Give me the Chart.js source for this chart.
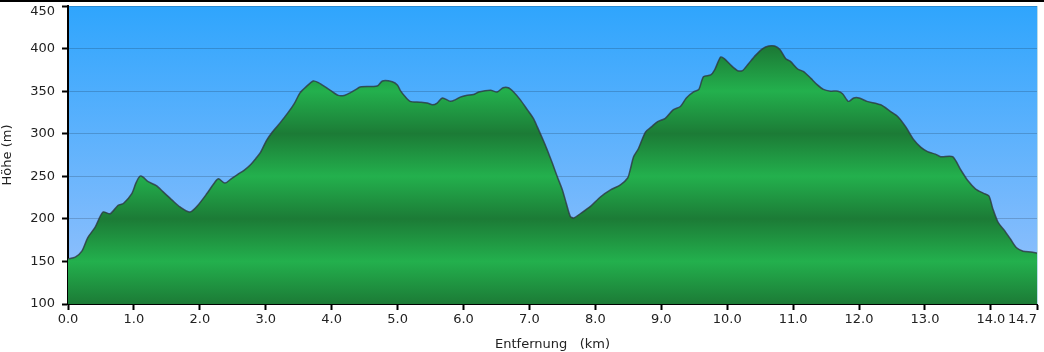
<!DOCTYPE html>
<html><head><meta charset="utf-8">
<script src="https://cdn.jsdelivr.net/npm/chart.js@4"></script>
<style>html,body{margin:0;padding:0;background:#fff}#wrap{width:1044px;height:352px}</style>
</head><body><div id="wrap"><canvas id="c" width="1044" height="352"></canvas></div>
<script>
const distanceKm = [0.00,0.11,0.21,0.30,0.41,0.53,0.64,0.76,0.84,0.97,1.03,1.09,1.14,1.21,1.34,1.44,1.58,1.70,1.85,1.96,2.11,2.20,2.28,2.38,2.46,2.57,2.67,2.76,2.85,2.92,3.01,3.10,3.22,3.34,3.43,3.52,3.61,3.72,3.80,3.86,3.98,4.10,4.19,4.28,4.37,4.43,4.69,4.77,4.92,5.00,5.04,5.12,5.19,5.34,5.45,5.53,5.60,5.68,5.80,5.88,5.95,6.04,6.15,6.23,6.41,6.51,6.60,6.68,6.76,6.86,6.97,7.06,7.12,7.20,7.27,7.35,7.42,7.50,7.56,7.62,7.67,7.77,7.93,8.08,8.23,8.38,8.49,8.53,8.58,8.65,8.76,8.85,8.94,9.06,9.18,9.29,9.38,9.49,9.57,9.64,9.75,9.81,9.90,9.96,10.05,10.16,10.23,10.32,10.43,10.54,10.63,10.72,10.80,10.89,10.96,11.07,11.16,11.27,11.36,11.46,11.57,11.68,11.75,11.84,11.92,12.00,12.12,12.33,12.48,12.59,12.71,12.83,12.94,13.04,13.16,13.24,13.42,13.54,13.65,13.77,13.89,13.97,14.03,14.11,14.20,14.30,14.39,14.49,14.61,14.70];
const elevationM = [153,155,162,178,190,208,206,216,218,230,242,250,249,244,239,232,222,214,208,215,230,240,247,242,246,252,257,263,271,278,292,302,313,325,335,348,355,362,360,357,351,345,345,348,352,355,356,362,361,357,351,343,338,337,336,334,336,342,338,340,343,345,346,349,351,349,354,354,349,340,328,318,308,294,281,265,250,234,218,203,201,206,215,226,234,240,248,258,273,282,302,308,314,318,328,332,342,349,352,367,369,375,390,388,381,374,374,382,392,400,403,403,399,388,385,376,373,365,358,352,350,350,347,338,342,342,338,334,326,320,308,293,284,279,276,273,273,258,245,235,230,227,212,196,187,176,166,162,161,160];
const xTickValues = [0,1,2,3,4,5,6,7,8,9,10,11,12,13,14,14.7];
const yTickValues = [100,150,200,250,300,350,400,450];

const FONT = {family:'"DejaVu Sans", Verdana, sans-serif', size:13};

const bgPlugin = {
  id:'bg',
  beforeDraw(chart){
    const {ctx, chartArea:a} = chart;
    const g = ctx.createLinearGradient(0,a.top,0,a.bottom);
    g.addColorStop(0,'#2fa5fd');
    g.addColorStop(1,'#99c2fc');
    ctx.save();
    ctx.fillStyle = g;
    ctx.fillRect(a.left,a.top,a.right-a.left,a.bottom-a.top);
    ctx.fillStyle = '#000';
    ctx.fillRect(0,0,chart.width,2);
    ctx.restore();
  },
  afterDraw(chart){
    const {ctx, chartArea:a} = chart;
    ctx.save();
    ctx.strokeStyle = '#b9dce9';
    ctx.lineWidth = 1;
    ctx.beginPath();
    ctx.moveTo(a.right+0.5,a.top);
    ctx.lineTo(a.right+0.5,a.bottom);
    ctx.stroke();
    ctx.restore();
  }
};

function greenFill(context){
  const chart = context.chart;
  const a = chart.chartArea;
  if(!a) return '#22ae4b';
  const ys = chart.scales.y;
  const top = ys.getPixelForValue(450), bot = ys.getPixelForValue(100);
  const g = chart.ctx.createLinearGradient(0,bot,0,top);
  const dark = '#1c7b36', light = '#23b04d';
  yTickValues.forEach((v,i)=>{
    g.addColorStop((v-100)/350, i%2===0 ? dark : light);
  });
  return g;
}

const points = distanceKm.map((d,i)=>({x:d,y:elevationM[i]}));
const lastX = xTickValues[xTickValues.length-1];
const topY = yTickValues[yTickValues.length-1];

new Chart(document.getElementById('c'),{
  type:'line',
  data:{datasets:[{
    data:points,
    borderColor:'rgba(45,55,65,0.8)',
    borderWidth:1.5,
    backgroundColor:greenFill,
    fill:'start',
    pointRadius:0,
    tension:0.25
  }]},
  options:{
    responsive:false,
    devicePixelRatio:1,
    animation:false,
    layout:{padding:{top:6,right:7,left:0,bottom:0}},
    plugins:{legend:{display:false},tooltip:{enabled:false}},
    scales:{
      x:{
        type:'linear',min:0,max:14.7,z:1,
        afterBuildTicks(s){ s.ticks = xTickValues.map(v=>({value:v})); },
        afterFit(s){ s.height = 48; s.paddingLeft = 0; s.paddingRight = 0; },
        ticks:{autoSkip:false,maxRotation:0,color:'#222',font:FONT,padding:2,
          callback:v=>{ const t = Number(v).toFixed(1); return v===lastX ? t+'       ' : t; }},
        grid:{drawOnChartArea:false,tickColor:'#000',tickLength:6,tickWidth:2},
        border:{color:'#000',width:2},
        title:{display:true,text:'Entfernung   (km)',color:'#222',font:FONT,padding:{top:4,bottom:0}}
      },
      y:{
        type:'linear',min:100,max:450,z:1,
        afterBuildTicks(s){ s.ticks = yTickValues.map(v=>({value:v})); },
        afterFit(s){ s.width = 68; s.paddingTop = 0; s.paddingBottom = 0; },
        ticks:{color:'#222',padding:7,
          font:ctx=> (ctx.tick && ctx.tick.value===topY) ? Object.assign({},FONT,{lineHeight:0.8}) : FONT,
          callback:v=> v===topY ? ['', String(v)] : String(v)},
        grid:{color:'rgba(0,0,0,0.17)',lineWidth:1,tickColor:'#000',tickLength:6,tickWidth:2},
        border:{color:'#000',width:2},
        title:{display:true,text:'Höhe (m)',color:'#222',font:FONT,padding:{top:0,bottom:4}}
      }
    }
  },
  plugins:[bgPlugin]
});
</script>
</body></html>
